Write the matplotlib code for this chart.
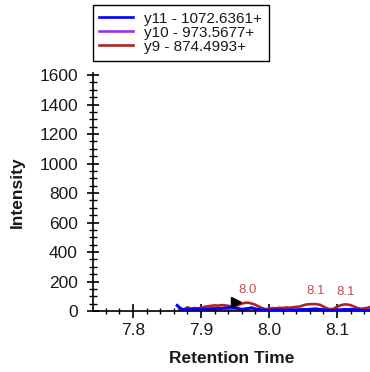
import matplotlib
matplotlib.use("Agg")
import matplotlib.pyplot as plt
from matplotlib.ticker import MultipleLocator, FormatStrFormatter

plt.rcParams['font.family'] = ['Liberation Sans', 'DejaVu Sans']

# Transition labels and colours
series_names = ["y11 - 1072.6361+", "y10 - 973.5677+", "y9 - 874.4993+"]
series_colors = ["#0000ff", "#9932e6", "#b22222"]

# y11 chromatogram
rt_y11 = [7.865, 7.870, 7.875, 7.880, 7.890, 7.900, 7.910, 7.920, 7.930, 7.940,
          7.945, 7.950, 7.955, 7.960, 7.965, 7.970, 7.975, 7.980, 7.990, 8.000,
          8.010, 8.020, 8.030, 8.040, 8.050, 8.060, 8.070, 8.080, 8.090, 8.100,
          8.110, 8.120, 8.130, 8.140, 8.150]
int_y11 = [38, 16, 10, 12, 14, 12, 14, 16, 18, 22,
           26, 22, 16, 12, 14, 18, 22, 14, 8, 6,
           8, 6, 8, 7, 10, 12, 14, 8, 5, 6,
           10, 12, 8, 5, 7]

# y10 chromatogram
rt_y10 = [7.868, 7.880, 7.890, 7.900, 7.910, 7.920, 7.930, 7.940, 7.950, 7.960,
          7.970, 7.980, 7.990, 8.000, 8.010, 8.020, 8.030, 8.040, 8.050, 8.060,
          8.070, 8.080, 8.090, 8.100, 8.110, 8.120, 8.130, 8.140, 8.150]
int_y10 = [10, 6, 8, 6, 9, 8, 10, 12, 14, 10,
           12, 9, 5, 4, 5, 4, 6, 5, 7, 9,
           10, 6, 4, 5, 8, 9, 5, 4, 5]

# y9 chromatogram
rt_y9 = [7.870, 7.875, 7.880, 7.885, 7.890, 7.895, 7.900, 7.905, 7.910, 7.915,
         7.920, 7.925, 7.930, 7.935, 7.940, 7.945, 7.950, 7.955, 7.960, 7.965,
         7.970, 7.975, 7.980, 7.985, 7.990, 7.995, 8.000, 8.005, 8.010, 8.015,
         8.020, 8.025, 8.030, 8.035, 8.040, 8.045, 8.050, 8.055, 8.060, 8.065,
         8.070, 8.075, 8.080, 8.085, 8.090, 8.095, 8.100, 8.105, 8.110, 8.115,
         8.120, 8.125, 8.130, 8.135, 8.140, 8.145, 8.150]
int_y9 = [15, 10, 25, 15, 20, 18, 22, 28, 32, 35,
          38, 36, 40, 38, 35, 30, 32, 40, 50, 56,
          56, 50, 42, 30, 20, 12, 15, 20, 18, 22,
          20, 24, 22, 25, 28, 30, 38, 44, 46, 47,
          46, 42, 30, 18, 12, 15, 28, 38, 44, 44,
          40, 30, 20, 15, 18, 22, 28]

# Peak apex annotations (retention time, intensity, label)
peak_rt = [7.969, 8.068, 8.113]
peak_int = [56, 47, 44]
peak_labels = ["8.0", "8.1", "8.1"]

# Precursor marker
marker_rt = [7.952]
marker_int = [62]

text_color = "#1a1a1a"

fig = plt.figure(figsize=(3.70, 3.72), dpi=100)
ax = fig.add_axes([0.251, 0.164, 0.749, 0.640])

handles = []
for rt, inten, name, col in zip([rt_y11, rt_y10, rt_y9], [int_y11, int_y10, int_y9],
                                series_names, series_colors):
    h, = ax.plot(rt, inten, color=col, lw=1.9, label=name, solid_joinstyle='round')
    handles.append(h)

# keep y11 on top near the baseline
ax.plot(rt_y11, int_y11, color=series_colors[0], lw=1.9, zorder=3)

for x, y, t in zip(peak_rt, peak_int, peak_labels):
    ax.annotate(t, (x, y), xytext=(0, 5), textcoords='offset points',
                ha='center', va='bottom', fontsize=9.5, color="#c45050")

ax.plot(marker_rt, marker_int, marker='>', color='black', markersize=7.5,
        linestyle='none', zorder=4)

ax.set_xlim(7.741, 8.1485)
ax.set_ylim(0, 1615)
ax.xaxis.set_major_locator(MultipleLocator(0.1))
ax.xaxis.set_minor_locator(MultipleLocator(0.02))
ax.yaxis.set_major_locator(MultipleLocator(200))
ax.yaxis.set_minor_locator(MultipleLocator(50))
ax.xaxis.set_major_formatter(FormatStrFormatter('%.1f'))

for s in ['top', 'right']:
    ax.spines[s].set_visible(False)
for s in ['left', 'bottom']:
    ax.spines[s].set_linewidth(1.2)

ax.tick_params(axis='y', which='major', direction='inout', length=8.6, width=1.2,
               labelsize=12.5, pad=6.5, labelcolor=text_color)
ax.tick_params(axis='y', which='minor', direction='inout', length=5.8, width=1.0)
ax.tick_params(axis='x', which='major', direction='inout', length=10, width=1.2,
               labelsize=12.5, pad=4, labelcolor=text_color)
ax.tick_params(axis='x', which='minor', direction='inout', length=4.3, width=1.0)

ax.set_xlabel("Retention Time", fontsize=12.5, fontweight='bold', labelpad=9,
              color=text_color)
ax.set_ylabel("Intensity", fontsize=12.5, fontweight='bold', labelpad=10,
              color=text_color)

leg = fig.legend(handles=handles, loc='upper left', bbox_to_anchor=(0.250, 0.987),
                 fontsize=11, frameon=True, fancybox=False, framealpha=1,
                 edgecolor='black', handlelength=2.2, handletextpad=0.75,
                 labelspacing=0.0, borderpad=0.45, borderaxespad=0)
for t in leg.get_texts():
    t.set_color(text_color)
leg.get_frame().set_linewidth(1.0)

fig.savefig("out.png", dpi=100)
